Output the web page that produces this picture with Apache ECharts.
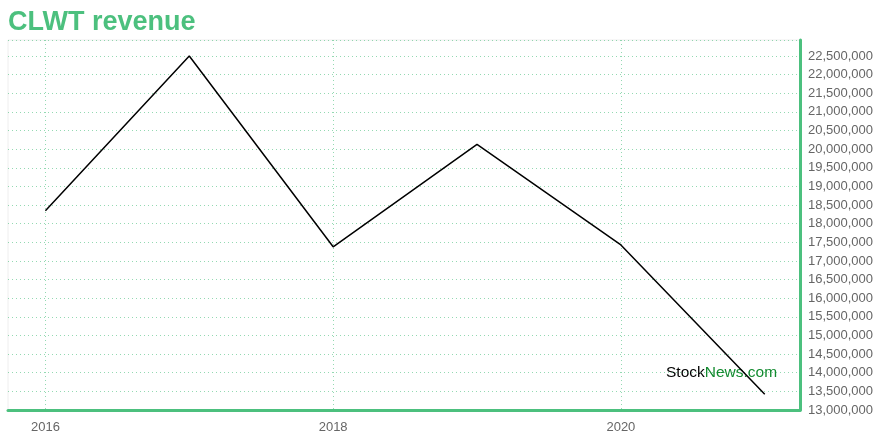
<!DOCTYPE html>
<html>
<head>
<meta charset="utf-8">
<script src="https://cdn.jsdelivr.net/npm/echarts@6/dist/echarts.min.js"></script>
<style>html,body{margin:0;padding:0;background:#fff}#c{width:880px;height:440px}</style>
</head>
<body>
<div id="c"></div>
<script>
var years = [2016, 2017, 2018, 2019, 2020, 2021];
var revenue = [18350000, 22500000, 17380000, 20130000, 17430000, 13420000];
var xTickLabels = [2016, 2018, 2020];
var titleText = 'CLWT revenue';

var green = '#4cc07e';
var chart = echarts.init(document.getElementById('c'), null, {renderer: 'canvas'});
chart.setOption({
  animation: false,
  title: {
    text: titleText, left: 8, top: 9, padding: 0,
    textStyle: {color: green, fontSize: 27, fontWeight: 'bold', fontFamily: 'Liberation Sans, Arial, sans-serif'}
  },
  grid: {left: 8, right: 80, top: 40, bottom: 30, show: true, borderColor: '#eeeeee', borderWidth: 1},
  xAxis: {
    type: 'value', min: 2015.74, max: 2021.245,
    axisLine: {show: true, onZero: false, lineStyle: {color: green, width: 3}},
    axisTick: {show: false, customValues: xTickLabels},
    axisLabel: {customValues: xTickLabels, color: '#666', fontSize: 13, fontFamily: 'Liberation Sans, Arial, sans-serif', margin: 11,
      formatter: function (v) { return String(Math.round(v)); }},
    splitLine: {show: true, lineStyle: {color: 'rgba(76,192,126,0.6)', type: [1, 3], width: 1}}
  },
  yAxis: {
    type: 'value', position: 'right', min: 13000000, max: 22930000, interval: 500000,
    axisLine: {show: true, lineStyle: {color: green, width: 3}},
    axisTick: {show: false},
    axisLabel: {color: '#666', fontSize: 13, fontFamily: 'Liberation Sans, Arial, sans-serif', margin: 8, showMaxLabel: false,
      formatter: function (v) { return v.toLocaleString('en-US'); }},
    splitLine: {show: true, lineStyle: {color: 'rgba(76,192,126,0.6)', type: [1, 3], width: 1}}
  },
  series: [{
    type: 'line', data: years.map(function (y, i) { return [y, revenue[i]]; }),
    symbol: 'none', lineStyle: {color: '#000', width: 1.5}
  }],
  graphic: [{
    type: 'text', left: 666, top: 365,
    style: {
      text: '{a|Stock}{b|News.com}',
      rich: {
        a: {fill: '#000', fontSize: 15.5, fontFamily: 'Liberation Sans, Arial, sans-serif'},
        b: {fill: '#118a2e', fontSize: 15.5, fontFamily: 'Liberation Sans, Arial, sans-serif'}
      }
    }
  }]
});
</script>
</body>
</html>
